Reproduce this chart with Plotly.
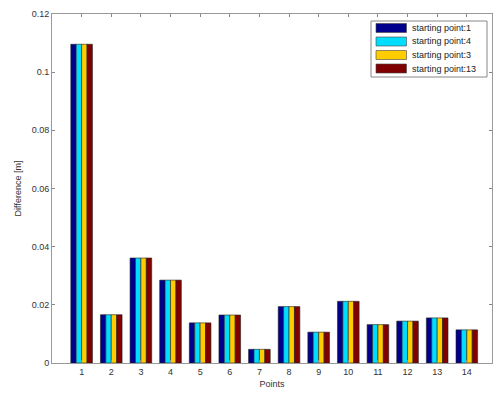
import plotly.graph_objects as go

points = list(range(1, 15))
series_names = ["starting point:1", "starting point:4", "starting point:3", "starting point:13"]
sp1 = [0.1096, 0.0166, 0.0361, 0.0285, 0.0138, 0.0165, 0.0047, 0.0194, 0.0106, 0.0212, 0.0132, 0.0144, 0.0155, 0.0114]
sp4 = [0.1096, 0.0166, 0.0361, 0.0285, 0.0138, 0.0165, 0.0047, 0.0194, 0.0106, 0.0212, 0.0132, 0.0144, 0.0155, 0.0114]
sp3 = [0.1096, 0.0166, 0.0361, 0.0285, 0.0138, 0.0165, 0.0047, 0.0194, 0.0106, 0.0212, 0.0132, 0.0144, 0.0155, 0.0114]
sp13 = [0.1096, 0.0166, 0.0361, 0.0285, 0.0138, 0.0165, 0.0047, 0.0194, 0.0106, 0.0212, 0.0132, 0.0144, 0.0155, 0.0114]
colors = ["#00008C", "#00DDFF", "#FFCC00", "#800000"]
y_ticks = [0, 0.02, 0.04, 0.06, 0.08, 0.1, 0.12]
y_tick_labels = ["0", "0.02", "0.04", "0.06", "0.08", "0.1", "0.12"]

W, H = 497, 393
L, R, T, B = 52, 5, 14, 30
PW, PH = W - L - R, H - T - B


def px(x):
    return (x - L) / PW


def py(y):
    return (H - B - y) / PH


fig = go.Figure()
for name, vals, c in zip(series_names, [sp1, sp4, sp3, sp13], colors):
    fig.add_trace(go.Bar(x=points, y=vals, name=name,
                         marker=dict(color=c, line=dict(color="#222", width=0.6))))

# custom legend (MATLAB style with wide swatches)
shapes = [dict(type="rect", xref="paper", yref="paper", x0=px(371), x1=px(487), y0=py(77), y1=py(21),
               fillcolor="white", line=dict(color="#888", width=1), layer="above")]
annotations = []
row_y = [28, 41.5, 55, 68.5]
for name, c, ry in zip(series_names, colors, row_y):
    shapes.append(dict(type="rect", xref="paper", yref="paper", x0=px(376), x1=px(406.5),
                       y0=py(ry + 4.5), y1=py(ry - 4.5), fillcolor=c,
                       line=dict(color="#444", width=0.6), layer="above"))
    annotations.append(dict(xref="paper", yref="paper", x=px(410), y=py(ry), xanchor="left", yanchor="middle",
                            text=name, showarrow=False,
                            font=dict(family="Liberation Sans, Arial", size=9, color="#222")))

font = dict(family="Liberation Sans, Arial", size=9, color="#333")
fig.update_layout(
    width=W, height=H,
    margin=dict(l=L, r=R, t=T, b=B),
    paper_bgcolor="white", plot_bgcolor="white",
    barmode="group", bargap=0.27, bargroupgap=0,
    font=font,
    showlegend=False,
    shapes=shapes, annotations=annotations,
    xaxis=dict(range=[0, 14.85], tickmode="array", tickvals=points, ticktext=[str(p) for p in points],
               ticks="inside", ticklen=3, tickcolor="#888", showline=True, linecolor="#999", linewidth=1,
               mirror="ticks", showgrid=False, zeroline=False,
               title=dict(text="Points", standoff=4, font=dict(size=9))),
    yaxis=dict(range=[0, 0.12], tickmode="array", tickvals=y_ticks, ticktext=y_tick_labels,
               ticks="inside", ticklen=3, tickcolor="#888", showline=True, linecolor="#999", linewidth=1,
               mirror="ticks", showgrid=False, zeroline=False,
               title=dict(text="Difference [m]", standoff=8, font=dict(size=9))),
)
fig.write_html("out.html")
